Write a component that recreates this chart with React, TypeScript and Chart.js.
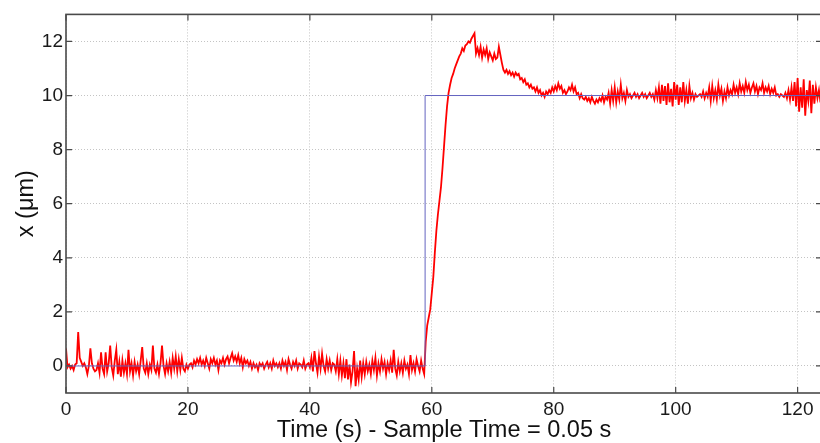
import React, { useEffect, useRef } from "react";
import { Chart, registerables } from "chart.js";

Chart.register(...registerables);

// ---- data ----
const SAMPLE_STEP = 0.25; // seconds between the values
const X_TICKS = [0, 20, 40, 60, 80, 100, 120];
const Y_TICKS = [0, 2, 4, 6, 8, 10, 12];
const X_RANGE = [0, 124];
const Y_RANGE = [-1, 13];
const X_TITLE = "Time (s) - Sample Time = 0.05 s";
const Y_TITLE = "x (μm)";

const REF_TIMES = [0, 58.9, 58.9, 124];
const REF_VALUES = [0, 0, 10, 10];

const MEASURED = [
  // 0 - 4.75
  0.65, -0.05, 0.05, -0.1, 0.0, -0.15, 0.05, 0.1, 1.25, 0.3, 0.15, 0.0, 0.1, -0.05, -0.3, 0.0, 0.65, 0.1, -0.1, -0.2,
  // 5 - 9.75
  -0.15, 0.1, -0.25, 0.5, -0.1, -0.3, 0.5, -0.2, 0.1, 0.75, -0.05, -0.35, 0.2, 0.6, -0.3, 0.15, -0.4, 0.2, -0.25, 0.1,
  // 10 - 14.75
  -0.3, 0.6, -0.2, 0.1, -0.35, 0.15, -0.2, 0.05, -0.3, 0.2, 0.7, -0.1, -0.25, 0.1, -0.3, 0.05, -0.15, 0.75, -0.1, -0.25,
  // 15 - 19.75
  0.05, -0.3, 0.1, 0.75, 0.0, -0.3, 0.1, -0.2, 0.15, -0.25, 0.3, -0.1, 0.35, -0.2, 0.25, -0.15, 0.3, -0.1, -0.2, 0.05,
  // 20 - 24.75
  -0.1, 0.05, 0.1, -0.05, 0.2, 0.05, 0.25, 0.1, 0.3, 0.05, 0.2, 0.0, 0.3, 0.1, -0.1, 0.25, 0.1, 0.3, 0.05, 0.2,
  // 25 - 29.75
  -0.15, 0.2, 0.1, 0.3, 0.05, 0.25, 0.35, 0.1, 0.3, 0.47, 0.2, 0.35, 0.15, 0.4, 0.1, 0.3, -0.05, 0.25, 0.1, 0.2,
  // 30 - 34.75
  0.0, 0.15, -0.1, 0.1, -0.05, 0.05, -0.15, 0.1, 0.0, 0.1, -0.1, 0.05, 0.15, -0.05, 0.1, -0.1, 0.2, 0.0, 0.1, -0.05,
  // 35 - 39.75
  0.1, -0.1, 0.2, 0.0, 0.15, -0.15, 0.25, 0.05, -0.1, 0.15, 0.0, 0.2, -0.1, 0.1, 0.05, -0.05, 0.2, -0.1, 0.05, 0.1,
  // 40 - 44.75
  -0.05, 0.3, -0.2, 0.55, 0.1, -0.25, 0.35, -0.1, 0.45, 0.0, -0.2, 0.25, -0.1, 0.2, -0.15, 0.1, 0.05, -0.2, 0.25, -0.3,
  // 45 - 49.75
  0.2, -0.35, 0.1, -0.45, 0.25, -0.5, 0.05, -0.6, -0.2, 0.55, -0.75, -0.1, -0.5, 0.2, -0.4, 0.1, -0.3, 0.15, -0.2, 0.05,
  // 50 - 54.75
  -0.3, 0.2, -0.15, 0.3, -0.35, 0.1, -0.2, 0.25, -0.1, 0.15, -0.3, 0.1, -0.15, 0.2, -0.25, 0.6, -0.1, -0.35, 0.15, -0.2,
  // 55 - 59.75
  0.1, -0.25, 0.2, -0.1, 0.05, -0.3, 0.4, -0.15, 0.1, -0.2, 0.25, 0.0, -0.2, 0.2, -0.1, -0.3, 0.9, 1.5, 1.8, 2.1,
  // 60 - 64.75
  2.7, 3.3, 4.2, 5.0, 5.6, 6.1, 6.6, 7.3, 8.1, 8.9, 9.6, 10.1, 10.4, 10.65, 10.8, 11.0, 11.15, 11.3, 11.45, 11.55,
  // 65 - 69.75
  11.75, 11.65, 11.85, 11.9, 12.0, 11.95, 12.1, 12.2, 12.3, 11.55, 11.75, 11.5, 11.8, 11.4, 11.7, 11.5, 11.75, 11.35, 11.6, 11.45,
  // 70 - 74.75
  11.3, 11.55, 11.35, 11.4, 11.8, 11.5, 11.2, 10.95, 10.85, 10.95, 10.8, 10.9, 10.75, 10.85, 10.7, 10.85, 10.75, 10.8, 10.6, 10.65,
  // 75 - 79.75
  10.5, 10.6, 10.4, 10.45, 10.3, 10.4, 10.25, 10.3, 10.15, 10.3, 10.1, 10.2, 10.0, 10.1, 9.95, 10.15, 10.05, 10.2, 10.1, 10.3,
  // 80 - 84.75
  10.15, 10.35, 10.2, 10.45, 10.25, 10.35, 10.1, 10.2, 10.05, 10.15, 10.3, 10.2, 10.4, 10.15, 10.3, 10.05, 10.1, 9.9, 10.05, 9.9,
  // 85 - 89.75
  9.85, 9.95, 9.8, 9.9, 9.75, 9.95, 9.8, 9.7, 9.85, 9.75, 9.9, 9.8, 10.0, 9.75, 9.95, 9.85, 10.1, 9.7, 10.2, 9.8,
  // 90 - 94.75
  10.3, 9.75, 10.15, 9.85, 10.4, 9.9, 10.1, 9.8, 10.2, 9.95, 10.05, 9.9, 10.0, 10.1, 9.95, 10.05, 9.9, 10.0, 10.1, 9.95,
  // 95 - 99.75
  10.05, 9.9, 10.0, 10.1, 9.95, 10.05, 9.85, 10.2, 9.9, 10.3, 9.7, 10.4, 9.8, 10.35, 9.65, 10.45, 9.75, 10.25, 9.6, 10.5,
  // 100 - 104.75
  9.85, 10.4, 9.65, 10.3, 9.75, 10.5, 9.8, 10.2, 9.7, 10.35, 9.9, 10.1, 9.85, 10.05, 9.95, 10.0, 10.05, 9.95, 10.15, 9.9,
  // 105 - 109.75
  10.1, 9.95, 10.3, 9.8, 10.35, 9.9, 10.2, 9.85, 10.4, 10.0, 10.25, 9.8, 10.15, 9.9, 10.3, 10.0, 10.2, 10.05, 10.4, 10.1,
  // 110 - 114.75
  10.3, 10.05, 10.45, 10.15, 10.35, 10.1, 10.5, 10.2, 10.4, 10.1, 10.3, 10.45, 10.15, 10.35, 10.05, 10.3, 10.2, 10.45, 10.1, 10.3,
  // 115 - 119.75
  10.15, 10.35, 10.05, 10.25, 10.1, 10.3, 10.0, 10.05, 9.95, 10.05, 10.0, 9.95, 10.1, 9.9, 10.2, 9.85, 10.3, 9.8, 10.5, 9.6,
  // 120 - 123.75
  10.65, 9.4, 10.3, 9.55, 10.6, 9.25, 10.2, 9.8, 10.55, 9.35, 10.4, 9.7, 10.3, 9.9, 10.2, 9.75,
];

const FONT = "'Liberation Sans', Arial, sans-serif";

const framePlugin = {
  id: "matlabFrame",
  beforeDraw(chart: any) {
    const { ctx, width, height } = chart;
    ctx.save();
    ctx.fillStyle = "#ffffff";
    ctx.fillRect(0, 0, width, height);
    ctx.restore();
  },
  afterDraw(chart: any) {
    const { ctx, chartArea: a, scales } = chart;
    const L = 6;
    ctx.save();
    ctx.strokeStyle = "#4a4a4a";
    ctx.lineWidth = 1.2;
    ctx.beginPath();
    scales.x.ticks.forEach((t: any) => {
      const px = scales.x.getPixelForValue(t.value);
      ctx.moveTo(px, a.bottom);
      ctx.lineTo(px, a.bottom - L);
      ctx.moveTo(px, a.top);
      ctx.lineTo(px, a.top + L);
    });
    scales.y.ticks.forEach((t: any) => {
      const py = scales.y.getPixelForValue(t.value);
      ctx.moveTo(a.left, py);
      ctx.lineTo(a.left + L, py);
      ctx.moveTo(a.right, py);
      ctx.lineTo(a.right - L, py);
    });
    ctx.stroke();
    ctx.lineWidth = 1.6;
    ctx.strokeRect(a.left, a.top, a.right - a.left, a.bottom - a.top);
    ctx.restore();
  },
};

export default function App() {
  const ref = useRef<HTMLCanvasElement | null>(null);

  useEffect(() => {
    document.body.style.margin = "0";
    document.body.style.overflow = "hidden";
    document.documentElement.style.overflow = "hidden";
    const canvas = ref.current;
    if (!canvas) return;

    const measuredPoints = MEASURED.map((v, i) => ({ x: i * SAMPLE_STEP, y: v }));
    const refPoints = REF_TIMES.map((t, i) => ({ x: t, y: REF_VALUES[i] }));

    const chart = new Chart(canvas, {
      type: "line",
      data: {
        datasets: [
          {
            label: "reference",
            data: refPoints,
            borderColor: "#6464c0",
            borderWidth: 1,
            pointRadius: 0,
            tension: 0,
          },
          {
            label: "x",
            data: measuredPoints,
            borderColor: "#ff0000",
            borderWidth: 1.8,
            pointRadius: 0,
            tension: 0,
          },
        ],
      },
      options: {
        animation: false,
        responsive: false,
        devicePixelRatio: 1,
        events: [],
        layout: { padding: { left: 0, top: 14, right: 8, bottom: 0 } },
        plugins: {
          legend: { display: false },
          tooltip: { enabled: false },
          title: { display: false },
        },
        scales: {
          x: {
            type: "linear",
            min: X_RANGE[0],
            max: X_RANGE[1],
            afterBuildTicks: (scale: any) => {
              scale.ticks = X_TICKS.map((v) => ({ value: v }));
            },
            afterFit: (scale: any) => {
              scale.height = 50;
            },
            grid: { color: "#c4c4c4", lineWidth: 1, drawTicks: false },
            border: { display: false, dash: [1, 2] },
            ticks: {
              padding: 5,
              color: "#1a1a1a",
              font: { family: FONT, size: 19 },
              maxRotation: 0,
              callback: (v: any) => String(v),
            },
            title: {
              display: true,
              text: X_TITLE,
              color: "#111111",
              font: { family: FONT, size: 23.5, lineHeight: 1 },
              padding: { top: 0, bottom: 1 },
            },
          },
          y: {
            type: "linear",
            min: Y_RANGE[0],
            max: Y_RANGE[1],
            afterBuildTicks: (scale: any) => {
              scale.ticks = Y_TICKS.map((v) => ({ value: v }));
            },
            afterFit: (scale: any) => {
              scale.width = 66;
            },
            grid: { color: "#c4c4c4", lineWidth: 1, drawTicks: false },
            border: { display: false, dash: [1, 2] },
            ticks: {
              padding: 3,
              color: "#1a1a1a",
              font: { family: FONT, size: 19 },
              callback: (v: any) => String(v),
            },
            title: {
              display: true,
              text: Y_TITLE,
              color: "#111111",
              font: { family: FONT, size: 23.5, lineHeight: 1 },
              padding: { top: 15, bottom: 0 },
            },
          },
        },
      },
      plugins: [framePlugin],
    } as any);

    return () => chart.destroy();
  }, []);

  return (
    <div style={{ position: "relative", width: 830, height: 443, overflow: "hidden" }}>
      <canvas ref={ref} width={830} height={443} style={{ display: "block", width: 830, height: 443 }} />
    </div>
  );
}
